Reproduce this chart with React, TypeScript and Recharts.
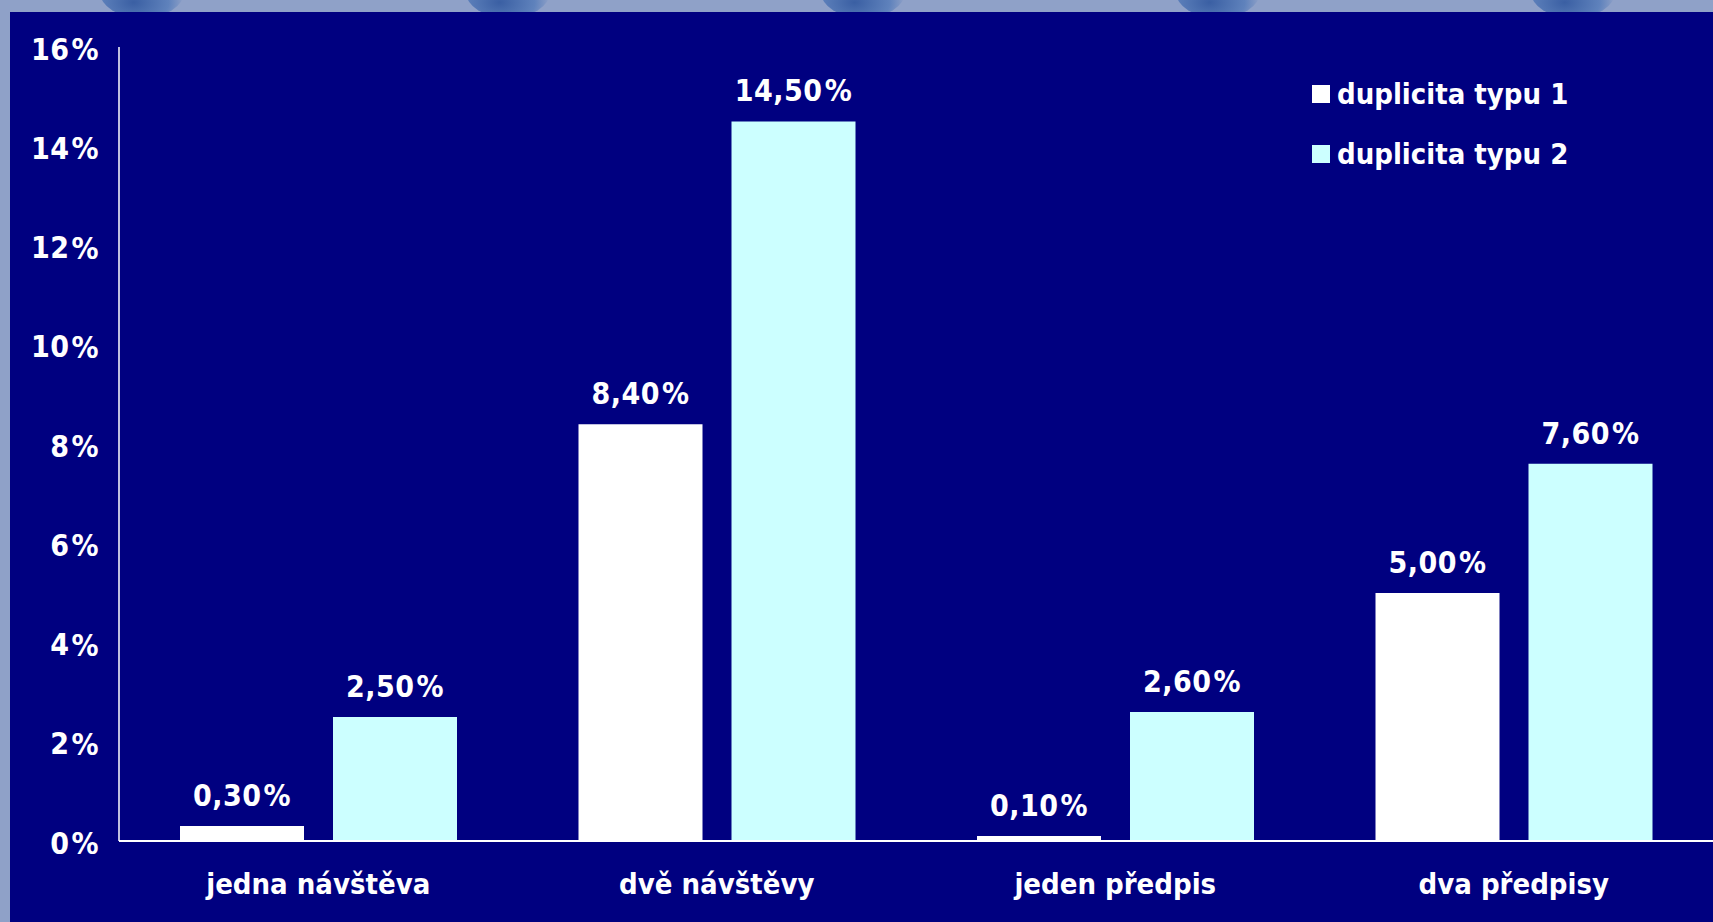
import React from 'react';
import { BarChart, Bar, XAxis, YAxis, Legend, LabelList } from 'recharts';

const categories = ['jedna návštěva', 'dvě návštěvy', 'jeden předpis', 'dva předpisy'];
const type1Values = [0.3, 8.4, 0.1, 5.0];
const type2Values = [2.5, 14.5, 2.6, 7.6];
const yTicks = [0, 2, 4, 6, 8, 10, 12, 14, 16];
const seriesNames = ['duplicita typu 1', 'duplicita typu 2'];
const seriesColors = ['#FFFFFF', '#CCFFFF'];

const data = categories.map((c, i) => ({ name: c, t1: type1Values[i], t2: type2Values[i] }));

const FONT = "'DejaVu Sans Condensed', 'DejaVu Sans', sans-serif";
const FS = 29;

const fmtNum = (v: number) => v.toFixed(2).replace('.', ',');

const Pct = () => (
  <tspan dx={2} style={{ fontStretch: 'normal' }}>%</tspan>
);

const renderLabel = (props: any) => {
  const { x, y, width, value } = props;
  return (
    <text x={x + width / 2} y={y - 20} textAnchor="middle" fill="#FFFFFF" fontFamily={FONT}
      fontWeight="bold" fontSize={30} style={{ fontStretch: 'condensed' }} letterSpacing={0.5}>
      {fmtNum(value)}
      <Pct />
    </text>
  );
};

const YTick = (props: any) => {
  const { y, payload } = props;
  return (
    <text x={99} y={y + 2} textAnchor="end" dominantBaseline="central" fill="#FFFFFF"
      fontFamily={FONT} fontWeight="bold" fontSize={30} style={{ fontStretch: 'condensed' }} letterSpacing={0.5}>
      {String(payload.value)}
      <Pct />
    </text>
  );
};

const XTick = (props: any) => {
  const { x, y, payload } = props;
  return (
    <text x={x} y={y + 35} textAnchor="middle" dominantBaseline="central" fill="#FFFFFF"
      fontFamily={FONT} fontWeight="bold" fontSize={FS} style={{ fontStretch: 'condensed' }}>
      {payload.value}
    </text>
  );
};

const LegendContent = () => (
  <div style={{ fontFamily: FONT, fontWeight: 'bold', fontSize: FS, color: '#FFFFFF', fontStretch: 'condensed' }}>
    {seriesNames.map((n, i) => (
      <div key={n} style={{ display: 'flex', alignItems: 'center', height: 60 }}>
        <div style={{ width: 18, height: 18, background: seriesColors[i], marginRight: 7 }} />
        <span>{n}</span>
      </div>
    ))}
  </div>
);

const ovalXs = [142, 508, 863, 1218, 1573];

export default function App() {
  return (
    <div style={{ position: 'fixed', left: 0, top: 0, width: 1713, height: 922, background: '#8FA1C8', overflow: 'hidden' }}>
      <svg width={1713} height={922} style={{ position: 'absolute', left: 0, top: 0 }}>
        <defs>
          <radialGradient id="og" cx="40%" cy="70%" r="60%">
            <stop offset="0%" stopColor="#3A5FA3" />
            <stop offset="70%" stopColor="#5F82BC" />
            <stop offset="100%" stopColor="#8FA1C8" />
          </radialGradient>
        </defs>
        {ovalXs.map((ox) => (
          <ellipse key={ox} cx={ox} cy={-8} rx={42} ry={26} fill="url(#og)" />
        ))}
      </svg>
      <div style={{ position: 'absolute', left: 10, top: 12, width: 1703, height: 910, background: '#000080' }} />
      <div style={{ position: 'absolute', left: 0, top: 0 }}>
        <BarChart width={1713} height={922} data={data} margin={{ top: 47, right: 0, left: 0, bottom: 0 }}
          barSize={124} barGap={29}>
          <XAxis dataKey="name" height={81} axisLine={{ stroke: '#FFFFFF', strokeWidth: 2 }} tickLine={false}
            tick={<XTick />} interval={0} />
          <YAxis width={119} domain={[0, 16]} ticks={yTicks} axisLine={{ stroke: '#FFFFFF', strokeWidth: 1.5 }}
            tickLine={false} tick={<YTick />} interval={0} />
          <Legend layout="horizontal" verticalAlign="middle" align="center" content={<LegendContent />}
            wrapperStyle={{ position: 'absolute', left: 1312, top: 64, width: 260 }} />
          <Bar dataKey="t1" name={seriesNames[0]} fill={seriesColors[0]} isAnimationActive={false}>
            <LabelList dataKey="t1" content={renderLabel} />
          </Bar>
          <Bar dataKey="t2" name={seriesNames[1]} fill={seriesColors[1]} isAnimationActive={false}>
            <LabelList dataKey="t2" content={renderLabel} />
          </Bar>
        </BarChart>
      </div>
    </div>
  );
}
